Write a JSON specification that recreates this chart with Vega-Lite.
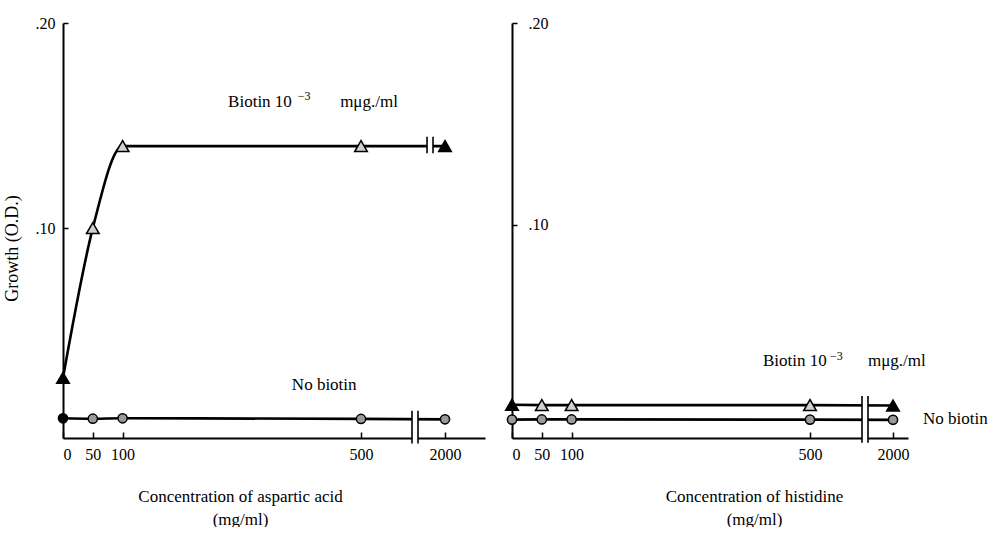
{
  "$schema": "https://vega.github.io/schema/vega-lite/v6.json",
  "background": "white",
  "padding": {"left": 3, "top": 15, "right": 0, "bottom": 0},
  "spacing": 27,
  "bounds": "flush",
  "config": {
    "view": {"stroke": null},
    "font": "Liberation Serif",
    "axis": {
      "grid": false,
      "domainColor": "black",
      "domainWidth": 2,
      "tickColor": "black",
      "tickWidth": 1.5,
      "labelColor": "black",
      "titleColor": "black",
      "labelFont": "Liberation Serif",
      "titleFont": "Liberation Serif",
      "labelFontSize": 16,
      "titleFontSize": 18,
      "titleFontWeight": "normal"
    },
    "text": {"font": "Liberation Serif", "fontSize": 18, "color": "black"}
  },
  "datasets": {
    "aspartic": [
      {"conc": 0, "growth": 0.027, "series": "biotin"},
      {"conc": 50, "growth": 0.100, "series": "biotin"},
      {"conc": 100, "growth": 0.140, "series": "biotin"},
      {"conc": 500, "growth": 0.140, "series": "biotin"},
      {"conc": 2000, "growth": 0.140, "series": "biotin"},
      {"conc": 0, "growth": 0.0073, "series": "none"},
      {"conc": 50, "growth": 0.0071, "series": "none"},
      {"conc": 100, "growth": 0.0073, "series": "none"},
      {"conc": 500, "growth": 0.0070, "series": "none"},
      {"conc": 2000, "growth": 0.0068, "series": "none"}
    ],
    "histidine": [
      {"conc": 0, "growth": 0.0110, "series": "biotin"},
      {"conc": 50, "growth": 0.0108, "series": "biotin"},
      {"conc": 100, "growth": 0.0108, "series": "biotin"},
      {"conc": 500, "growth": 0.0108, "series": "biotin"},
      {"conc": 2000, "growth": 0.0106, "series": "biotin"},
      {"conc": 0, "growth": 0.0036, "series": "none"},
      {"conc": 50, "growth": 0.0037, "series": "none"},
      {"conc": 100, "growth": 0.0037, "series": "none"},
      {"conc": 500, "growth": 0.0036, "series": "none"},
      {"conc": 2000, "growth": 0.0035, "series": "none"}
    ],
    "breaksLeft": [
      {"x1": 1411, "x2": 1518, "y1": -0.005, "y2": 0.011},
      {"x1": 1679, "x2": 1786, "y1": 0.1365, "y2": 0.1445}
    ],
    "breaksRight": [
      {"x1": 1440, "x2": 1548, "y1": -0.0079, "y2": 0.0153}
    ],
    "notesLeft": [
      {"x": 277, "y": 0.1615, "label": "Biotin 10", "kind": "main"},
      {"x": 394, "y": 0.1645, "label": "−3", "kind": "sup"},
      {"x": 465, "y": 0.1615, "label": "mμg./ml", "kind": "main"},
      {"x": 384, "y": 0.0234, "label": "No biotin", "kind": "main"}
    ],
    "notesRight": [
      {"x": 421, "y": 0.0327, "label": "Biotin 10", "kind": "main"},
      {"x": 861, "y": 0.0352, "label": "−3", "kind": "sup"},
      {"x": 1548, "y": 0.0327, "label": "mμg./ml", "kind": "main"},
      {"x": 2600, "y": 0.0040, "label": "No biotin", "kind": "main"}
    ]
  },
  "hconcat": [
    {
      "width": 422,
      "height": 415,
      "encoding": {
        "x": {
          "field": "conc", "type": "quantitative",
          "scale": {"domain": [0, 500, 2000, 2500], "range": [0, 298, 382, 422], "nice": false, "zero": false},
          "axis": {
            "values": [0, 50, 100, 500, 2000],
            "format": "d",
            "tickSize": -6,
            "labelPadding": 14,
            "labelBaseline": "top",
            "title": ["Concentration of aspartic acid", "(mg/ml)"],
            "titleX": 177,
            "titleY": 63,
            "titleAlign": "center",
            "titleBaseline": "alphabetic",
            "titleLineHeight": 23,
            "titleFontSize": 17
          }
        },
        "y": {
          "field": "growth", "type": "quantitative",
          "scale": {"domain": [-0.0023, 0.2], "nice": false, "zero": false},
          "axis": {
            "values": [0.1, 0.2],
            "labelExpr": "replace(format(datum.value, '.2f'), '0.', '.')",
            "tickSize": -5,
            "labelPadding": 13,
            "title": "Growth (O.D.)",
            "titleX": -51,
            "titleY": 225,
            "titleAlign": "center",
            "titleBaseline": "middle",
            "titleAngle": -90
          }
        }
      },
      "layer": [
        {
          "data": {"name": "aspartic"},
          "mark": {"type": "line", "color": "black", "strokeWidth": 2.6, "interpolate": "monotone"},
          "encoding": {"detail": {"field": "series"}}
        },
        {
          "data": {"name": "breaksLeft"},
          "mark": {"type": "rect", "fill": "white"},
          "encoding": {
            "x": {"field": "x1", "type": "quantitative"},
            "x2": {"field": "x2"},
            "y": {"field": "y1", "type": "quantitative"},
            "y2": {"field": "y2"}
          }
        },
        {
          "data": {"name": "breaksLeft"},
          "mark": {"type": "rule", "color": "black", "strokeWidth": 1.6},
          "encoding": {
            "x": {"field": "x1", "type": "quantitative"},
            "y": {"field": "y1", "type": "quantitative"},
            "y2": {"field": "y2"}
          }
        },
        {
          "data": {"name": "breaksLeft"},
          "mark": {"type": "rule", "color": "black", "strokeWidth": 1.6},
          "encoding": {
            "x": {"field": "x2", "type": "quantitative"},
            "y": {"field": "y1", "type": "quantitative"},
            "y2": {"field": "y2"}
          }
        },
        {
          "data": {"name": "aspartic"},
          "transform": [{"filter": "datum.series === 'biotin'"}],
          "mark": {"type": "point", "shape": "triangle-up", "size": 160, "stroke": "black", "strokeWidth": 1.5, "filled": false, "opacity": 1},
          "encoding": {
            "fill": {"condition": {"test": "datum.conc === 0 || datum.conc === 2000", "value": "black"}, "value": "#d0d0d0"}
          }
        },
        {
          "data": {"name": "aspartic"},
          "transform": [{"filter": "datum.series === 'none'"}],
          "mark": {"type": "point", "shape": "circle", "size": 85, "stroke": "black", "strokeWidth": 1.5, "filled": false, "opacity": 1},
          "encoding": {
            "fill": {"condition": {"test": "datum.conc === 0", "value": "black"}, "value": "#9a9a9a"}
          }
        },
        {
          "data": {"name": "notesLeft"},
          "transform": [{"filter": "datum.kind === 'main'"}],
          "mark": {"type": "text", "align": "left", "baseline": "middle", "fontSize": 17},
          "encoding": {
            "x": {"field": "x", "type": "quantitative"},
            "y": {"field": "y", "type": "quantitative"},
            "text": {"field": "label"}
          }
        },
        {
          "data": {"name": "notesLeft"},
          "transform": [{"filter": "datum.kind === 'sup'"}],
          "mark": {"type": "text", "align": "left", "baseline": "middle", "fontSize": 12},
          "encoding": {
            "x": {"field": "x", "type": "quantitative"},
            "y": {"field": "y", "type": "quantitative"},
            "text": {"field": "label"}
          }
        }
      ]
    },
    {
      "width": 396,
      "height": 415,
      "encoding": {
        "x": {
          "field": "conc", "type": "quantitative",
          "scale": {"domain": [0, 500, 2000, 2300], "range": [0, 298, 381, 396], "nice": false, "zero": false},
          "axis": {
            "values": [0, 50, 100, 500, 2000],
            "format": "d",
            "tickSize": -6,
            "labelPadding": 14,
            "labelBaseline": "top",
            "title": ["Concentration of histidine", "(mg/ml)"],
            "titleX": 242,
            "titleY": 63,
            "titleAlign": "center",
            "titleBaseline": "alphabetic",
            "titleLineHeight": 23,
            "titleFontSize": 17
          }
        },
        "y": {
          "field": "growth", "type": "quantitative",
          "scale": {"domain": [-0.0055, 0.2], "nice": false, "zero": false},
          "axis": {
            "values": [0.1, 0.2],
            "labelExpr": "replace(format(datum.value, '.2f'), '0.', '.')",
            "tickSize": -5,
            "labelPadding": -11,
            "labelAlign": "left",
            "title": null
          }
        }
      },
      "layer": [
        {
          "data": {"name": "histidine"},
          "mark": {"type": "line", "color": "black", "strokeWidth": 2.6},
          "encoding": {"detail": {"field": "series"}}
        },
        {
          "data": {"name": "breaksRight"},
          "mark": {"type": "rect", "fill": "white"},
          "encoding": {
            "x": {"field": "x1", "type": "quantitative"},
            "x2": {"field": "x2"},
            "y": {"field": "y1", "type": "quantitative"},
            "y2": {"field": "y2"}
          }
        },
        {
          "data": {"name": "breaksRight"},
          "mark": {"type": "rule", "color": "black", "strokeWidth": 1.6},
          "encoding": {
            "x": {"field": "x1", "type": "quantitative"},
            "y": {"field": "y1", "type": "quantitative"},
            "y2": {"field": "y2"}
          }
        },
        {
          "data": {"name": "breaksRight"},
          "mark": {"type": "rule", "color": "black", "strokeWidth": 1.6},
          "encoding": {
            "x": {"field": "x2", "type": "quantitative"},
            "y": {"field": "y1", "type": "quantitative"},
            "y2": {"field": "y2"}
          }
        },
        {
          "data": {"name": "histidine"},
          "transform": [{"filter": "datum.series === 'biotin'"}],
          "mark": {"type": "point", "shape": "triangle-up", "size": 160, "stroke": "black", "strokeWidth": 1.5, "filled": false, "opacity": 1},
          "encoding": {
            "fill": {"condition": {"test": "datum.conc === 0 || datum.conc === 2000", "value": "black"}, "value": "#d0d0d0"}
          }
        },
        {
          "data": {"name": "histidine"},
          "transform": [{"filter": "datum.series === 'none'"}],
          "mark": {"type": "point", "shape": "circle", "size": 85, "stroke": "black", "strokeWidth": 1.5, "filled": false, "opacity": 1},
          "encoding": {
            "fill": {"value": "#9a9a9a"}
          }
        },
        {
          "data": {"name": "notesRight"},
          "transform": [{"filter": "datum.kind === 'main'"}],
          "mark": {"type": "text", "align": "left", "baseline": "middle", "fontSize": 17},
          "encoding": {
            "x": {"field": "x", "type": "quantitative"},
            "y": {"field": "y", "type": "quantitative"},
            "text": {"field": "label"}
          }
        },
        {
          "data": {"name": "notesRight"},
          "transform": [{"filter": "datum.kind === 'sup'"}],
          "mark": {"type": "text", "align": "left", "baseline": "middle", "fontSize": 12},
          "encoding": {
            "x": {"field": "x", "type": "quantitative"},
            "y": {"field": "y", "type": "quantitative"},
            "text": {"field": "label"}
          }
        }
      ]
    }
  ]
}
